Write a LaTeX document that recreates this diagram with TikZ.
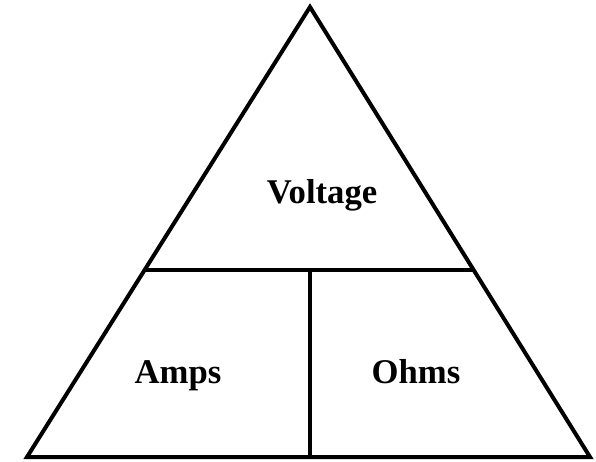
\documentclass[tikz,border=0pt]{standalone}
\usepackage{fontspec}
\setmainfont{Liberation Serif}
\usetikzlibrary{calc}
\begin{document}
\begin{tikzpicture}[x=0.75pt,y=-0.75pt,
  edge/.style={line width=3pt,line join=miter,black},
  lbl/.style={font=\fontsize{26}{30}\selectfont\bfseries,anchor=base,inner sep=0pt}]
\useasboundingbox (0,0) rectangle (596,461);
\coordinate (top) at (310,7);
\coordinate (bl) at (27,457);
\coordinate (br) at (590,457);
\coordinate (ml) at ($(bl)!0.4156!(top)$);
\coordinate (mr) at ($(br)!0.4156!(top)$);
\coordinate (mb) at (310,457);
\coordinate (mm) at (310,270);
\draw[edge] (top) -- (bl) -- (br) -- cycle;
\draw[edge] (ml) -- (mr);
\draw[edge] (mm) -- (mb);
\node[lbl] (v) at (322,203) {Voltage};
\node[lbl] (a) at (178,383) {Amps};
\node[lbl] (o) at (416,383) {Ohms};
\end{tikzpicture}
\end{document}
